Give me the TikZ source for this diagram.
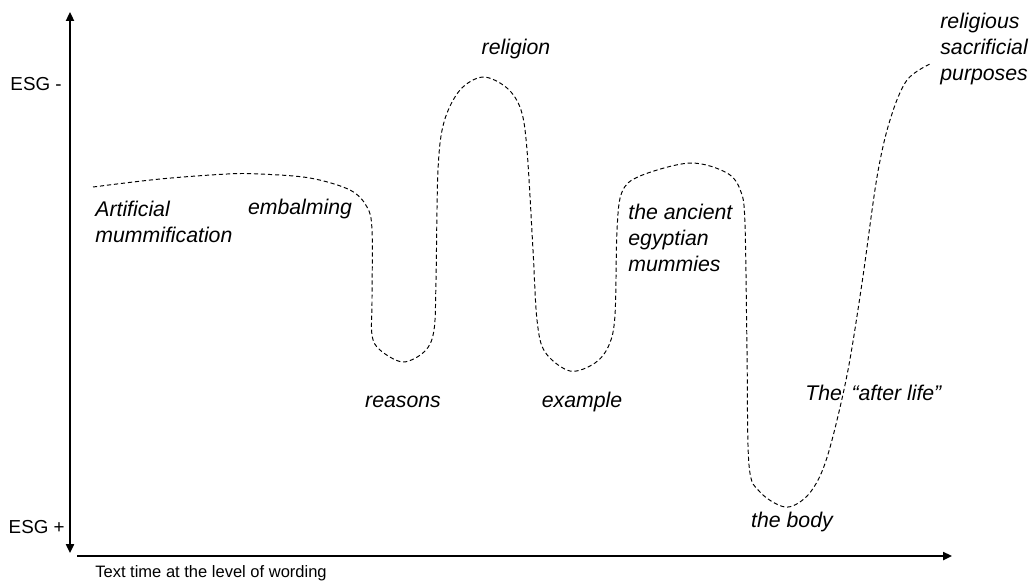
\documentclass[tikz,border=0pt]{standalone}
\usepackage{fontspec}
\setmainfont{Liberation Sans}
\usetikzlibrary{arrows.meta,positioning}
\tikzset{
  % axis lines
  axis/.style={line width=1.1pt, -{Triangle[length=5pt,width=4.5pt]}},
  % dashed trace
  trace/.style={dash pattern=on 2.4pt off 1.6pt, line width=0.55pt},
  % italic word labels
  lbl/.style={inner sep=0pt, font=\fontsize{12.1}{14.7}\selectfont\itshape, align=left},
  % axis labels
  axlbl/.style={inner sep=0pt, font=\fontsize{10.7}{12}\selectfont},
}
\begin{document}
\begin{tikzpicture}[x=0.02cm, y=-0.02cm]
  \useasboundingbox (0,0) rectangle (1030,583);

  % axes
  \coordinate (ytop) at (70,12);
  \coordinate (ybot) at (70,553);
  \coordinate (xleft) at (77,556);
  \coordinate (xright) at (952,556);
  \draw[axis, {Triangle[length=5pt,width=4.5pt]}-{Triangle[length=5pt,width=4.5pt]}] (ybot) -- (ytop);
  \draw[axis] (xleft) -- (xright);

  \node[axlbl, anchor=east] (esgminus) at (62,84) {ESG -};
  \node[axlbl, anchor=east] (esgplus) at (65,527) {ESG +};
  \node[axlbl, anchor=west, font=\fontsize{9.4}{11}\selectfont] (xlabel) at (95,573) {Text time at the level of wording};

  % trace
  \draw[trace] plot[smooth, tension=0.55] coordinates {
    (93,187) (160,179) (227,174) (260,174) (310,178) (350,190) (367,207)
    (372,230) (372,300) (372,335) (380,350) (403,362) (425,351) (434,330)
    (436,280) (438,170) (444,122) (460,90) (483,77) (507,88) (521,110)
    (527,150) (533,250) (537,320) (545,352) (570,371) (595,363) (609,345)
    (615,315) (617,230) (622,192) (640,176) (690,163) (727,173) (741,192)
    (745,225) (747,350) (749,465) (760,492) (785,507) (805,498) (820,476)
    (832,440) (848,370) (862,283) (877,177) (890,120) (907,80) (932,63)
  };

  % labels
  \node[lbl] (religion) at (516,49) {religion};
  \node[lbl, anchor=west] (artificial) at (95,222) {Artificial\\mummification};
  \node[lbl] (embalming) at (300,209) {embalming};
  \node[lbl] (reasons) at (403,402) {reasons};
  \node[lbl] (example) at (582,402) {example};
  \node[lbl, anchor=west] (mummies) at (628,238) {the ancient\\egyptian\\mummies};
  \node[lbl, anchor=west] (afterlife) at (805,393) {The\hspace{0.45em}“after life”};
  \node[lbl] (body) at (792,522) {the body};
  \node[lbl, anchor=west] (purposes) at (940,49) {religious\\sacrificial\\purposes};
\end{tikzpicture}
\end{document}
